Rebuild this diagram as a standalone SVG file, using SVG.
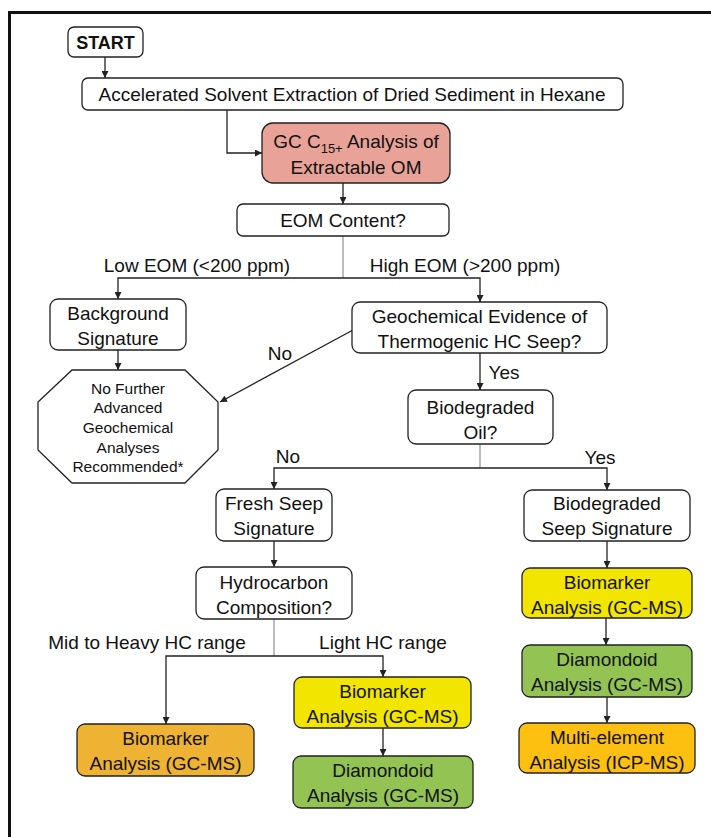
<svg xmlns="http://www.w3.org/2000/svg" width="711" height="837" viewBox="0 0 711 837">
<style>
.box{stroke:#222;stroke-width:1.3;fill:#fff}
.t{font-family:"Liberation Sans",Arial,sans-serif;font-size:19px;fill:#111;text-anchor:middle}
.s{font-family:"Liberation Sans",Arial,sans-serif;font-size:15.5px;fill:#111;text-anchor:middle}
.c{stroke:#222;stroke-width:1.3;fill:none}
.g{stroke:#999;stroke-width:1.3;fill:none}
.a{marker-end:url(#ah)}
</style>
<defs>
<marker id="ah" viewBox="0 0 10 10" refX="10" refY="5" markerWidth="7" markerHeight="7" markerUnits="userSpaceOnUse" orient="auto">
<path d="M0,0 L10,5 L0,10 z" fill="#222"/>
</marker>
</defs>
<rect width="711" height="837" fill="#fff"/>
<path d="M9.5,837 V12.5 H711" stroke="#111" stroke-width="3" fill="none"/>

<g id="connectors">
<line class="c a" x1="105" y1="57" x2="105" y2="78"/>
<polyline class="c a" points="227,110 227,153 262,153"/>
<line class="c a" x1="343" y1="183" x2="343" y2="204"/>
<line class="g" x1="343" y1="236" x2="343" y2="278"/>
<polyline class="c a" points="343,278 118,278 118,299"/>
<polyline class="c a" points="343,278 480,278 480,302"/>
<line class="c a" x1="118" y1="350" x2="118" y2="370"/>
<line class="c a" x1="353" y1="330" x2="220" y2="402"/>
<line class="c a" x1="480" y1="353" x2="480" y2="390"/>
<line class="g" x1="480" y1="444" x2="480" y2="468"/>
<polyline class="c a" points="480,468 274,468 274,489"/>
<polyline class="c a" points="480,468 607,468 607,490"/>
<line class="c a" x1="274" y1="541" x2="274" y2="567"/>
<line class="g" x1="274" y1="619" x2="274" y2="656"/>
<polyline class="c a" points="274,656 166,656 166,724"/>
<polyline class="c a" points="274,656 383,656 383,677"/>
<line class="c a" x1="383" y1="728" x2="383" y2="756"/>
<line class="c a" x1="607" y1="541" x2="607" y2="568"/>
<line class="c a" x1="606" y1="618" x2="606" y2="645"/>
<line class="c a" x1="607" y1="697" x2="607" y2="723"/>
<text class="t" x="197" y="272">Low EOM (&lt;200 ppm)</text>
<text class="t" x="465" y="272">High EOM (&gt;200 ppm)</text>
<text class="t" x="280" y="360">No</text>
<text class="t" x="504" y="379">Yes</text>
<text class="t" x="288" y="463">No</text>
<text class="t" x="600" y="464">Yes</text>
<text class="t" x="147" y="649">Mid to Heavy HC range</text>
<text class="t" x="383" y="649">Light HC range</text>
</g>

<g id="start"><rect class="box" x="68" y="27" width="75" height="30" rx="6"/><text class="t" x="105.5" y="49" style="font-weight:bold;font-size:18px">START</text></g>
<g id="ase"><rect class="box" x="82" y="78" width="541" height="32" rx="6"/><text class="t" x="352" y="101">Accelerated Solvent Extraction of Dried Sediment in Hexane</text></g>
<g id="gc"><rect class="box" x="262" y="123" width="188" height="60" rx="11" style="fill:#E9A297"/><text class="t" x="356" y="148">GC C<tspan font-size="13" dy="5">15+</tspan><tspan dy="-5"> Analysis of</tspan></text><text class="t" x="356" y="174">Extractable OM</text></g>
<g id="eom"><rect class="box" x="237" y="204" width="212" height="32" rx="6"/><text class="t" x="343" y="227">EOM Content?</text></g>
<g id="background"><rect class="box" x="50" y="299" width="136" height="51" rx="8"/><text class="t" x="118" y="320">Background</text><text class="t" x="118" y="345">Signature</text></g>
<g id="geo"><rect class="box" x="352" y="302" width="255" height="51" rx="8"/><text class="t" x="479.5" y="323">Geochemical Evidence of</text><text class="t" x="479.5" y="348">Thermogenic HC Seep?</text></g>
<g id="nofurther"><polygon class="box" points="72,370 185,370 218,402 218,450 185,483 72,483 38,450 38,402"/>
<text class="s" x="128" y="393.5">No Further</text><text class="s" x="128" y="413">Advanced</text><text class="s" x="128" y="433">Geochemical</text><text class="s" x="128" y="452.5">Analyses</text><text class="s" x="128" y="472">Recommended*</text></g>
<g id="oil"><rect class="box" x="408" y="390" width="145" height="54" rx="8"/><text class="t" x="480.5" y="414">Biodegraded</text><text class="t" x="480.5" y="439">Oil?</text></g>
<g id="fresh"><rect class="box" x="216" y="489" width="116" height="52" rx="8"/><text class="t" x="274" y="510">Fresh Seep</text><text class="t" x="274" y="535">Signature</text></g>
<g id="bioseep"><rect class="box" x="524" y="490" width="166" height="51" rx="8"/><text class="t" x="607" y="510">Biodegraded</text><text class="t" x="607" y="535">Seep Signature</text></g>
<g id="hc"><rect class="box" x="196" y="567" width="156" height="52" rx="8"/><text class="t" x="274" y="589">Hydrocarbon</text><text class="t" x="274" y="614">Composition?</text></g>
<g id="bio-heavy"><rect class="box" x="77" y="724" width="177" height="52" rx="8" style="fill:#EEB333"/><text class="t" x="165.5" y="745">Biomarker</text><text class="t" x="165.5" y="770">Analysis (GC-MS)</text></g>
<g id="bio-light"><rect class="box" x="294" y="677" width="177" height="51" rx="8" style="fill:#F2E500"/><text class="t" x="382.5" y="698">Biomarker</text><text class="t" x="382.5" y="723">Analysis (GC-MS)</text></g>
<g id="dia-light"><rect class="box" x="293" y="756" width="180" height="52" rx="8" style="fill:#92C353"/><text class="t" x="383" y="777">Diamondoid</text><text class="t" x="383" y="802">Analysis (GC-MS)</text></g>
<g id="bio-right"><rect class="box" x="522" y="568" width="170" height="50" rx="8" style="fill:#F2E500"/><text class="t" x="607" y="589">Biomarker</text><text class="t" x="607" y="614">Analysis (GC-MS)</text></g>
<g id="dia-right"><rect class="box" x="522" y="645" width="170" height="52" rx="8" style="fill:#92C353"/><text class="t" x="607" y="666">Diamondoid</text><text class="t" x="607" y="691">Analysis (GC-MS)</text></g>
<g id="multi"><rect class="box" x="519" y="723" width="176" height="50" rx="8" style="fill:#FDBF10"/><text class="t" x="607" y="744">Multi-element</text><text class="t" x="607" y="769">Analysis (ICP-MS)</text></g>
</svg>
